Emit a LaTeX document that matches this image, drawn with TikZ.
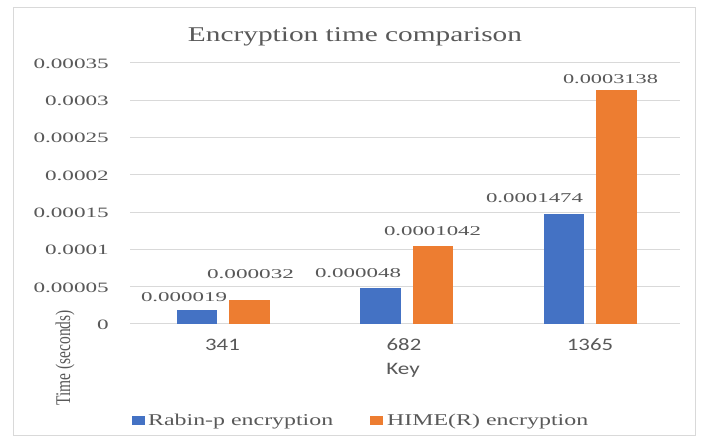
\documentclass[tikz,border=0pt]{standalone}
\usepackage{fontspec}
\setmainfont{Liberation Serif}
\newfontfamily\calib{Carlito}
\usepackage{graphicx}
\definecolor{txt}{HTML}{595959}
\definecolor{gridc}{HTML}{D9D9D9}
\definecolor{bblue}{HTML}{4472C4}
\definecolor{borange}{HTML}{ED7D31}
\newcommand\fitw[3]{\resizebox{#1pt}{\height}{\fontsize{#2pt}{#2pt}\selectfont #3}}
\begin{document}
\begin{tikzpicture}[x=1pt,y=-1pt,
  lbl/.style={inner sep=0pt, text=txt},
  gline/.style={draw=gridc, line width=1pt},
  bluebar/.style={fill=bblue},
  orangebar/.style={fill=borange}]
\useasboundingbox (0,0) rectangle (702,438);
\fill[white] (0,0) rectangle (702,438);
\draw[gridc, line width=1pt] (13,8) rectangle (695,436);
% title
\node[lbl, anchor=base] (title) at (355,41.7) {\fitw{334}{21}{Encryption time comparison}};
% gridlines and tick labels
\foreach \k/\lab in {0/0,1/0.00005,2/0.0001,3/0.00015,4/0.0002,5/0.00025,6/0.0003,7/0.00035} {
  \draw[gline] (130,{324-37.3*\k}) -- (680,{324-37.3*\k});
  \node[lbl, anchor=base east] (t\k) at (109,{329.5-37.3*\k}) {\scalebox{1.62}[1]{\fontsize{14.3pt}{14pt}\selectfont \lab}};
}
% bars (values in units of 1e-5, 7.46 px per unit)
\foreach \c/\b/\o [count=\i] in {223/1.9/3.2, 406.7/4.8/10.42, 590.3/14.74/31.38} {
  \fill[bluebar] ({\c-46.5},324) rectangle ({\c-6},{324-7.46*\b});
  \fill[orangebar] ({\c+6},324) rectangle ({\c+46.5},{324-7.46*\o});
}
% data labels
\node[lbl, anchor=base] (d1) at (184,301.7) {\fitw{86}{13.5}{0.000019}};
\node[lbl, anchor=base] (d2) at (250.5,278.3) {\fitw{87}{13.5}{0.000032}};
\node[lbl, anchor=base] (d3) at (358,277.5) {\fitw{86}{13.5}{0.000048}};
\node[lbl, anchor=base] (d4) at (432.5,235.5) {\fitw{97}{13.5}{0.0001042}};
\node[lbl, anchor=base] (d5) at (534.5,202.5) {\fitw{97}{13.5}{0.0001474}};
\node[lbl, anchor=base] (d6) at (610.5,83.3) {\fitw{95}{13.5}{0.0003138}};
% category labels
\node[lbl, anchor=base] (c1) at (222.5,351) {\scalebox{1.3}[1]{\calib\fontsize{17.5pt}{17pt}\selectfont 341}};
\node[lbl, anchor=base] (c2) at (404,351) {\scalebox{1.3}[1]{\calib\fontsize{17.5pt}{17pt}\selectfont 682}};
\node[lbl, anchor=base] (c3) at (590,351) {\scalebox{1.3}[1]{\calib\fontsize{17.5pt}{17pt}\selectfont 1365}};
\node[lbl, anchor=base] (key) at (403,375) {\scalebox{1.32}[1]{\calib\fontsize{17.5pt}{17pt}\selectfont Key}};
% y axis title
\node[lbl, rotate=90] (ytitle) at (65,358) {\scalebox{1}[1.35]{\fontsize{15.5pt}{15pt}\selectfont Time (seconds)}};
% legend
\fill[bblue] (132,416) rectangle (145,425);
\node[lbl, anchor=base west] (leg1) at (148,426) {\fitw{185}{16.5}{Rabin-p encryption}};
\fill[borange] (370,416) rectangle (383,425);
\node[lbl, anchor=base west] (leg2) at (387,426) {\fitw{201}{16.5}{HIME(R) encryption}};
\end{tikzpicture}
\end{document}
